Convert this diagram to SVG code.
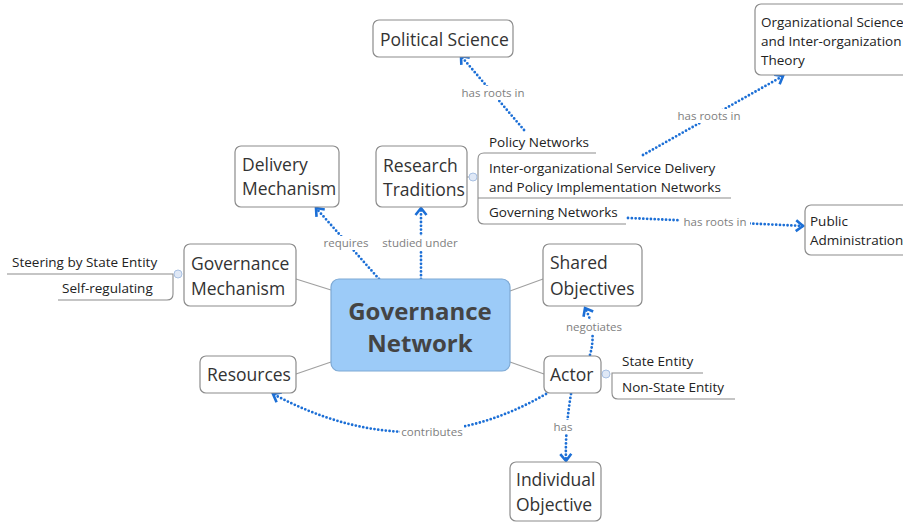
<svg xmlns="http://www.w3.org/2000/svg" width="903" height="523" viewBox="0 0 903 523">
<style>
.box{fill:#fff;stroke:#8c8c8c;stroke-width:1.2}
.main{fill:#9ccbf8;stroke:#7ea9d4;stroke-width:1.2}
.t{font-family:"Open Sans","Noto Sans",sans-serif;font-size:17.5px;fill:#333}
.ts{font-family:"Open Sans","Noto Sans",sans-serif;font-size:13.5px;fill:#222}
.tm{font-family:"Open Sans","Noto Sans",sans-serif;font-size:24px;font-weight:bold;fill:#444;text-anchor:middle}
.lbl{font-family:"Open Sans","Noto Sans",sans-serif;font-size:11.5px;fill:#7e7e7e;text-anchor:middle}
.lb{fill:#fff}
.solid{fill:none;stroke:#a0a0a0;stroke-width:1.2}
.br{fill:none;stroke:#8c8c8c;stroke-width:1.1}
.dot{fill:none;stroke:#1c6fd6;stroke-width:2.8;stroke-linecap:round;stroke-dasharray:0 3.8;marker-end:url(#arr)}
.knob{fill:#dfe8f6;stroke:#a9c1e3;stroke-width:1}
</style>
<defs>
<marker id="arr" markerUnits="userSpaceOnUse" markerWidth="16" markerHeight="16" refX="9" refY="7" orient="auto">
<path d="M2,1.5 L9,7 L2,12.5" fill="none" stroke="#1c6fd6" stroke-width="2.6" stroke-linejoin="miter"/>
</marker>
</defs>
<rect width="903" height="523" fill="#fff"/>

<g id="connectors">
<path class="solid" d="M296,279 L331,290"/>
<path class="solid" d="M296,374 L331,362"/>
<path class="solid" d="M543,279 L510,291"/>
<path class="solid" d="M544,374 L510,362"/>
<path class="solid" d="M467,177 L469,177"/>
<path class="solid" d="M601,374 L602,374"/>
<path class="dot" d="M379,279 L316,208"/>
<path class="dot" d="M421,279 L421,208"/>
<path class="dot" d="M524,130 L461,56"/>
<path class="dot" d="M643,155 L783,76"/>
<path class="dot" d="M628,218 Q720,222 803,226"/>
<path class="dot" d="M590,355 Q597,330 585,308"/>
<path class="dot" d="M546,394 Q415,470 273,394"/>
<path class="dot" d="M571,394 Q565,430 566,461"/>
<g id="labels">
<rect class="lb" x="322" y="236" width="48" height="14"/><text class="lbl" x="346" y="247">requires</text>
<rect class="lb" x="381" y="236" width="79" height="14"/><text class="lbl" x="420" y="247">studied under</text>
<rect class="lb" x="459" y="86" width="68" height="14"/><text class="lbl" x="493" y="97">has roots in</text>
<rect class="lb" x="675" y="109" width="68" height="14"/><text class="lbl" x="709" y="120">has roots in</text>
<rect class="lb" x="680" y="215" width="70" height="14"/><text class="lbl" x="715" y="226">has roots in</text>
<rect class="lb" x="564" y="320" width="60" height="14"/><text class="lbl" x="594" y="331">negotiates</text>
<rect class="lb" x="400" y="425" width="64" height="14"/><text class="lbl" x="432" y="436">contributes</text>
<rect class="lb" x="551" y="420" width="24" height="14"/><text class="lbl" x="563" y="431">has</text>
</g>
</g>

<g id="central">
<rect class="main" x="331" y="279" width="179" height="92" rx="8"/>
<text class="tm" x="420" y="320">Governance</text>
<text class="tm" x="420" y="352">Network</text>
</g>

<g id="political-science">
<rect class="box" x="373" y="20" width="140" height="37" rx="6"/>
<text class="t" x="380" y="46">Political Science</text>
</g>

<g id="org-science">
<rect class="box" x="755" y="4" width="160" height="71" rx="6"/>
<text class="ts" x="761" y="27">Organizational Science</text>
<text class="ts" x="761" y="46">and Inter-organization</text>
<text class="ts" x="761" y="65">Theory</text>
</g>

<g id="delivery-mechanism">
<rect class="box" x="235" y="146" width="104" height="61" rx="6"/>
<text class="t" x="242" y="171">Delivery</text>
<text class="t" x="242" y="195">Mechanism</text>
</g>

<g id="research-traditions">
<rect class="box" x="376" y="146" width="91" height="61" rx="6"/>
<text class="t" x="383" y="172">Research</text>
<text class="t" x="383" y="196">Traditions</text>
</g>

<g id="research-subtopics">
<path class="br" d="M596,153 H484 Q478,153 478,159 V218 Q478,224 484,224 H626"/>
<path class="br" d="M478,198 H731"/>
<circle class="knob" cx="473" cy="177" r="4"/>
<text class="ts" x="489" y="147">Policy Networks</text>
<text class="ts" x="489" y="173">Inter-organizational Service Delivery</text>
<text class="ts" x="489" y="192">and Policy Implementation Networks</text>
<text class="ts" x="489" y="217">Governing Networks</text>
</g>

<g id="public-administration">
<rect class="box" x="805" y="205" width="110" height="50" rx="6"/>
<text class="ts" x="810" y="226">Public</text>
<text class="ts" x="810" y="245">Administration</text>
</g>

<g id="governance-mechanism">
<rect class="box" x="184" y="244" width="112" height="62" rx="6"/>
<text class="t" x="191" y="270">Governance</text>
<text class="t" x="191" y="295">Mechanism</text>
</g>

<g id="mechanism-subtopics">
<path class="br" d="M7,274 H173 V294 Q173,300 167,300 H58"/>
<circle class="knob" cx="178" cy="274" r="4"/>
<text class="ts" x="12" y="267">Steering by State Entity</text>
<text class="ts" x="62" y="293">Self-regulating</text>
</g>

<g id="shared-objectives">
<rect class="box" x="543" y="244" width="99" height="62" rx="6"/>
<text class="t" x="550" y="269">Shared</text>
<text class="t" x="550" y="295">Objectives</text>
</g>

<g id="resources">
<rect class="box" x="200" y="356" width="96" height="37" rx="6"/>
<text class="t" x="207" y="381">Resources</text>
</g>

<g id="actor">
<rect class="box" x="544" y="356" width="57" height="37" rx="6"/>
<text class="t" x="550" y="381">Actor</text>
</g>

<g id="actor-subtopics">
<path class="br" d="M703,373 H612 V393 Q612,399 618,399 H735"/>
<circle class="knob" cx="606" cy="374" r="4"/>
<text class="ts" x="622" y="366">State Entity</text>
<text class="ts" x="622" y="392">Non-State Entity</text>
</g>

<g id="individual-objective">
<rect class="box" x="510" y="462" width="91" height="59" rx="6"/>
<text class="t" x="516" y="486">Individual</text>
<text class="t" x="516" y="511">Objective</text>
</g>
</svg>
